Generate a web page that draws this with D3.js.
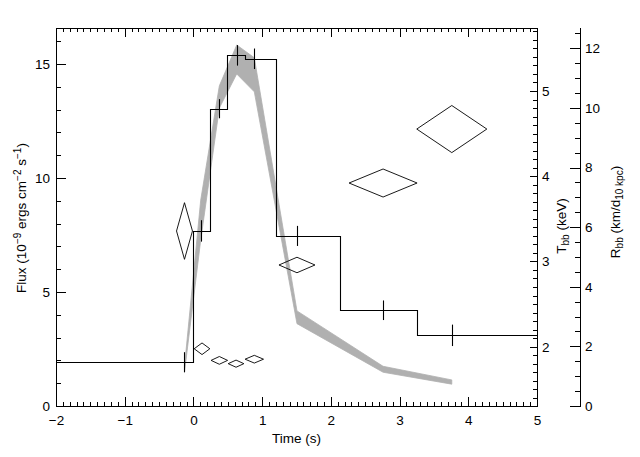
<!DOCTYPE html>
<html><head><meta charset="utf-8">
<script src="https://cdn.jsdelivr.net/npm/d3@7"></script>
<style>
body{margin:0;background:#fff;}
svg{display:block;}
text{font-family:"Liberation Sans",Arial,sans-serif;fill:#000;}
</style></head>
<body><svg id="c" width="640" height="457"></svg>
<script>
// ---- data ----
const xTicks = [-2,-1,0,1,2,3,4,5];
const fluxTicks = [0,5,10,15];
const tTicks = [2,3,4,5];
const rTicks = [0,2,4,6,8,10,12];

// histogram (step) flux light curve
const binEdges = [-2, 0, 0.24, 0.493, 0.755, 1.205, 2.138, 3.258, 5];
const binFlux  = [1.92, 7.68, 13.04, 15.38, 15.23, 7.46, 4.20, 3.10];

// spectral time points
const specTime = [-0.13, 0.106, 0.377, 0.63, 0.886, 1.507, 2.76, 3.76];
const specFlux = [1.92, 7.68, 13.04, 15.38, 15.23, 7.46, 4.20, 3.10];
const specFluxErr = [0.44, 0.47, 0.42, 0.45, 0.45, 0.44, 0.43, 0.47];

// blackbody temperature band (keV)
const tUpper = [1.77, 3.72, 5.06, 5.54, 5.39, 2.42, 1.77, 1.61];
const tLower = [1.70, 3.25, 4.80, 5.20, 4.99, 2.27, 1.70, 1.56];

// blackbody radius (km / d_10kpc) with errors
const rTime  = [-0.13, 0.125, 0.377, 0.62, 0.886, 1.507, 2.76, 3.76];
const rVal   = [5.87, 1.92, 1.53, 1.42, 1.57, 4.73, 7.48, 9.29];
const rErr   = [0.95, 0.195, 0.13, 0.12, 0.13, 0.26, 0.47, 0.79];
const rTimeErr = [0.116, 0.114, 0.12, 0.114, 0.134, 0.262, 0.495, 0.51];

// ---- layout ----
const L = 56, R = 537, T = 28, B = 406, RA = 580;
const svg = d3.select("#c");

const x = d3.scaleLinear().domain([-2,5]).range([L,R]);
const yF = d3.scaleLinear().domain([0,16.58]).range([B,T]);
const yT = d3.scaleLinear().domain([1.304,5.739]).range([B,T]);
const yR = d3.scaleLinear().domain([0,12.68]).range([B,T]);

// gray temperature band
const band = specTime.map((t,i)=>({t, lo:tLower[i], hi:tUpper[i]}));
svg.append("path")
  .attr("d", d3.area().x(d=>x(d.t)).y0(d=>yT(d.lo)).y1(d=>yT(d.hi))(band))
  .attr("fill","#b0b0b0").attr("stroke","#b0b0b0").attr("stroke-width",0.8);

// step histogram
const steps = binEdges.map((e,i)=>({t:e, f: binFlux[Math.min(i, binFlux.length-1)]}));
svg.append("path")
  .attr("d", d3.line().x(d=>Math.round(x(d.t))+0.5).y(d=>Math.round(yF(d.f))+0.5).curve(d3.curveStepAfter)(steps))
  .attr("fill","none").attr("stroke","#000").attr("stroke-width",1.1);

// flux error bars
specTime.forEach((t,i)=>{
  const xx = Math.round(x(t))+0.5;
  svg.append("line")
    .attr("x1",xx).attr("x2",xx)
    .attr("y1",yF(specFlux[i]-specFluxErr[i])).attr("y2",yF(specFlux[i]+specFluxErr[i]))
    .attr("stroke","#000").attr("stroke-width",1.1);
});

// radius diamonds
rTime.forEach((t,i)=>{
  const cx = x(t), cy = yR(rVal[i]);
  const pts = [[x(t-rTimeErr[i]),cy],[cx,yR(rVal[i]+rErr[i])],[x(t+rTimeErr[i]),cy],[cx,yR(rVal[i]-rErr[i])]];
  svg.append("path").attr("d","M"+pts.map(p=>p.join(",")).join("L")+"Z")
    .attr("fill","none").attr("stroke","#000").attr("stroke-width",0.9);
});

// ---- axes ----
function styleAxis(g){
  g.select(".domain").remove();
  g.selectAll("line").attr("stroke","#000").attr("stroke-width",1).attr("shape-rendering","crispEdges");
  g.selectAll("text").style("font-size","13.5px").style("font-family",'"Liberation Sans",Arial,sans-serif');
}
const fmt = d=>d<0?"\u2212"+Math.abs(d):String(d);
const xMinor = d3.range(-20,51).map(v=>v/10);
const fMinor = d3.range(0,17);
const tMinor = d3.range(14,58).map(v=>v/10);
const rMinor = d3.range(0,26).map(v=>v/2);

// bottom
svg.append("g").attr("transform",`translate(0,${B})`)
  .call(d3.axisBottom(x).tickValues(xMinor).tickSize(-4).tickSizeOuter(0).tickFormat(""))
  .call(styleAxis);
svg.append("g").attr("transform",`translate(0,${B})`)
  .call(d3.axisBottom(x).tickValues(xTicks).tickSize(-9).tickSizeOuter(0).tickPadding(9).tickFormat(fmt))
  .call(styleAxis);
// top
svg.append("g").attr("transform",`translate(0,${T})`)
  .call(d3.axisTop(x).tickValues(xMinor).tickSize(-4).tickSizeOuter(0).tickFormat(""))
  .call(styleAxis);
svg.append("g").attr("transform",`translate(0,${T})`)
  .call(d3.axisTop(x).tickValues(xTicks).tickSize(-9).tickSizeOuter(0).tickFormat(""))
  .call(styleAxis);
// left flux
svg.append("g").attr("transform",`translate(${L},0)`)
  .call(d3.axisLeft(yF).tickValues(fMinor).tickSize(-5).tickSizeOuter(0).tickFormat(""))
  .call(styleAxis);
svg.append("g").attr("transform",`translate(${L},0)`)
  .call(d3.axisLeft(yF).tickValues(fluxTicks).tickSize(-10).tickSizeOuter(0).tickPadding(6).tickFormat(fmt))
  .call(styleAxis);
// right T axis on box edge
svg.append("g").attr("transform",`translate(${R},0)`)
  .call(d3.axisRight(yT).tickValues(tMinor.filter(v=>v>=1.31&&v<=5.73)).tickSize(-4).tickSizeOuter(0).tickFormat(""))
  .call(styleAxis);
svg.append("g").attr("transform",`translate(${R},0)`)
  .call(d3.axisRight(yT).tickValues(tTicks).tickSize(-7).tickSizeOuter(0).tickPadding(5).tickFormat(fmt))
  .call(styleAxis);
// separate R axis
svg.append("line").attr("x1",RA+0.5).attr("x2",RA+0.5).attr("y1",T).attr("y2",B+0.5)
  .attr("stroke","#000").attr("shape-rendering","crispEdges");
svg.append("g").attr("transform",`translate(${RA},0)`)
  .call(d3.axisRight(yR).tickValues(rMinor.filter(v=>v<=12.6)).tickSize(-5).tickSizeOuter(0).tickFormat(""))
  .call(styleAxis);
svg.append("g").attr("transform",`translate(${RA},0)`)
  .call(d3.axisRight(yR).tickValues(rTicks).tickSize(-10).tickSizeOuter(0).tickPadding(5).tickFormat(fmt))
  .call(styleAxis);

// box
svg.append("rect").attr("x",L+0.5).attr("y",T+0.5).attr("width",R-L).attr("height",B-T)
  .attr("fill","none").attr("stroke","#000").attr("stroke-width",1).attr("shape-rendering","crispEdges");

// ---- titles ----
svg.append("text").attr("x",(L+R)/2).attr("y",443).attr("text-anchor","middle")
  .style("font-size","13.5px").text("Time (s)");

const fl = svg.append("text").attr("transform","translate(26,218) rotate(-90)")
  .attr("text-anchor","middle").style("font-size","13.5px");
fl.append("tspan").text("Flux (10");
fl.append("tspan").attr("dy",-5).style("font-size","10px").text("\u22129");
fl.append("tspan").attr("dy",5).text(" ergs cm");
fl.append("tspan").attr("dy",-5).style("font-size","10px").text("\u22122");
fl.append("tspan").attr("dy",5).text(" s");
fl.append("tspan").attr("dy",-5).style("font-size","10px").text("\u22121");
fl.append("tspan").attr("dy",5).text(")");

const tl = svg.append("text").attr("transform","translate(566,226) rotate(-90)")
  .attr("text-anchor","middle").style("font-size","13.5px");
tl.append("tspan").text("T");
tl.append("tspan").attr("dy",3).style("font-size","10px").text("bb");
tl.append("tspan").attr("dy",-3).text(" (keV)");

const rl = svg.append("text").attr("transform","translate(620,212) rotate(-90)")
  .attr("text-anchor","middle").style("font-size","13.5px");
rl.append("tspan").text("R");
rl.append("tspan").attr("dy",3).style("font-size","10px").text("bb");
rl.append("tspan").attr("dy",-3).text(" (km/d");
rl.append("tspan").attr("dy",3).style("font-size","10px").text("10 kpc");
rl.append("tspan").attr("dy",-3).text(")");
</script></body></html>
